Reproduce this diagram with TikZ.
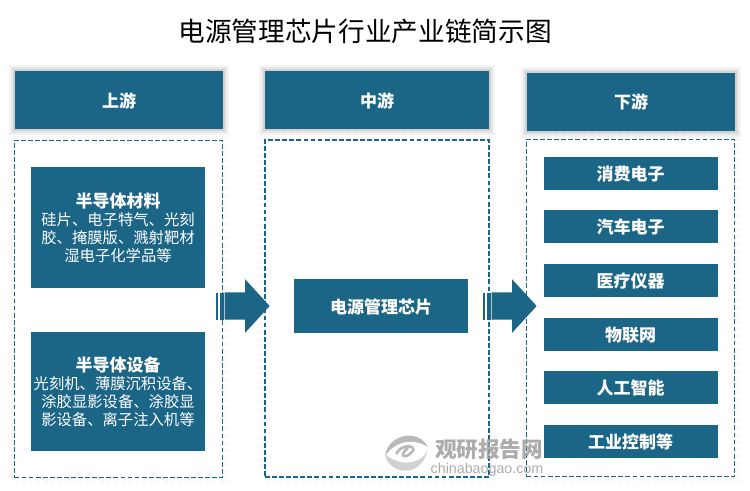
\documentclass[tikz,border=0pt]{standalone}
\usepackage{fontspec}
\setmainfont{Noto Sans CJK SC}
\newfontfamily\latinfont{Liberation Sans}
\usetikzlibrary{shapes.arrows}
\definecolor{chainblue}{HTML}{1B6587}
\definecolor{markgray}{HTML}{9E9E9E}

\begin{document}
\begin{tikzpicture}[
    x=0.75pt, y=-0.75pt,
    font=\fontsize{11.5}{13.5}\selectfont,
    soft/.style={
      preaction={draw=black, opacity=.04, line width=9pt},
      preaction={draw=black, opacity=.06, line width=6pt},
      preaction={draw=black, opacity=.09, line width=3pt}},
    faint/.style={
      preaction={draw=black, opacity=.012, line width=12pt},
      preaction={draw=black, opacity=.012, line width=7pt}},
    head/.style={fill=chainblue, text=white, font=\fontsize{12.75}{13.5}\selectfont\bfseries,
                 inner sep=0pt, text height=13pt, text depth=2pt, minimum height=43.5pt},
    frame/.style={draw=chainblue, line width=1.2pt, dash pattern=on 3.6pt off 1.7pt,
                  fill=white, faint, inner sep=0pt, minimum width=156pt, minimum height=253pt},
    blk/.style={fill=chainblue, text=white, align=center, inner sep=0pt, minimum width=130.5pt},
    item/.style={blk, font=\fontsize{12.75}{13.5}\selectfont\bfseries,
                 text height=13pt, text depth=2pt, minimum height=24.75pt},
    bar/.style={fill=chainblue, inner sep=0pt, minimum height=20.25pt},
    flow/.style={single arrow, fill=chainblue, inner xsep=0pt, inner ysep=10.1pt, minimum height=33.75pt,
                 minimum width=39.75pt, single arrow head extend=9.75pt,
                 single arrow tip angle=95, anchor=tip},
    wmark/.style={text=markgray, inner sep=0pt},
  ]
  \useasboundingbox (0,0) rectangle (750,490);

  %% ---- title --------------------------------------------------------
  \node[inner sep=0pt, font=\fontsize{20}{24}\selectfont] (title) at (365,31) {电源管理芯片行业产业链简示图};

  %% ---- column heads -------------------------------------------------
  \node[head, soft, minimum width=156pt] (up)  at (119,100) {上游};
  \node[head, soft, minimum width=168pt] (mid) at (377,100) {中游};
  \node[head, soft, minimum width=156pt] (down) at (631,101.5) {下游};

  %% ---- dashed frames ------------------------------------------------
  \node[frame] (upframe) at (118.5,309) {};
  \node[frame, minimum width=168pt] (midframe) at (377,308.5) {};
  \node[frame] (downframe) at (630.5,308) {};

  %% ---- upstream -----------------------------------------------------
  \node[blk, minimum height=90.4pt] (material) at (118,227.3)
  {\rule{0pt}{11.8pt}{\fontsize{12.75}{13.5}\selectfont\bfseries 半导体材料}\\硅片、电子特气、光刻\\胶、掩膜版、溅射靶材\\湿电子化学品等};
  \node[blk, minimum height=89.3pt] (device) at (118,391.5)
  {\rule{0pt}{11.8pt}{\fontsize{12.75}{13.5}\selectfont\bfseries 半导体设备}\\光刻机、薄膜沉积设备、\\涂胶显影设备、涂胶显\\影设备、离子注入机等};

  %% ---- midstream ----------------------------------------------------
  \node[item, minimum height=40.5pt] (chip) at (381,306) {电源管理芯片};

  %% ---- downstream ---------------------------------------------------
  \node[item] (d1) at (630.5,173.5) {消费电子};
  \node[item] (d2) at (630.5,226.5) {汽车电子};
  \node[item] (d3) at (630.5,280.5) {医疗仪器};
  \node[item] (d4) at (630.5,334.5) {物联网};
  \node[item] (d5) at (630.5,387.5) {人工智能};
  \node[item] (d6) at (630.5,441.5) {工业控制等};

  %% ---- flow arrows --------------------------------------------------
  \node[flow] (flowa) at (270,306) {};
  \node[bar, minimum width=1.5pt] (bara1) at (217,306) {};
  \node[bar, minimum width=3pt] (bara2) at (221.5,306) {};
  \node[flow] (flowb) at (537,306) {};
  \node[bar, minimum width=1.5pt] (barb1) at (484,306) {};
  \node[bar, minimum width=3pt] (barb2) at (488.5,306) {};

  %% ---- watermark ----------------------------------------------------
  \begin{scope}[opacity=.85]
    \fill[markgray!55] (385,454) .. controls (388,474) and (420,480) .. (428,450)
      .. controls (420,466) and (398,466) .. (385,454);
    \fill[markgray!85] (385,456) .. controls (388,434) and (418,428) .. (428,447)
      .. controls (414,438) and (396,440) .. (385,456);
    \draw[markgray!85, line width=2pt] (396,454) .. controls (402,442) and (420,446) .. (411,453)
      .. controls (405,459) and (398,456) .. (408,448);
    \node[wmark, font=\fontsize{16.2}{18}\selectfont\bfseries] (markcn) at (489,449) {观研报告网};
    \node[wmark, font=\fontsize{10.7}{12}\latinfont] (markurl) at (487,470) {chinabaogao.com};
  \end{scope}

\end{tikzpicture}
\end{document}
